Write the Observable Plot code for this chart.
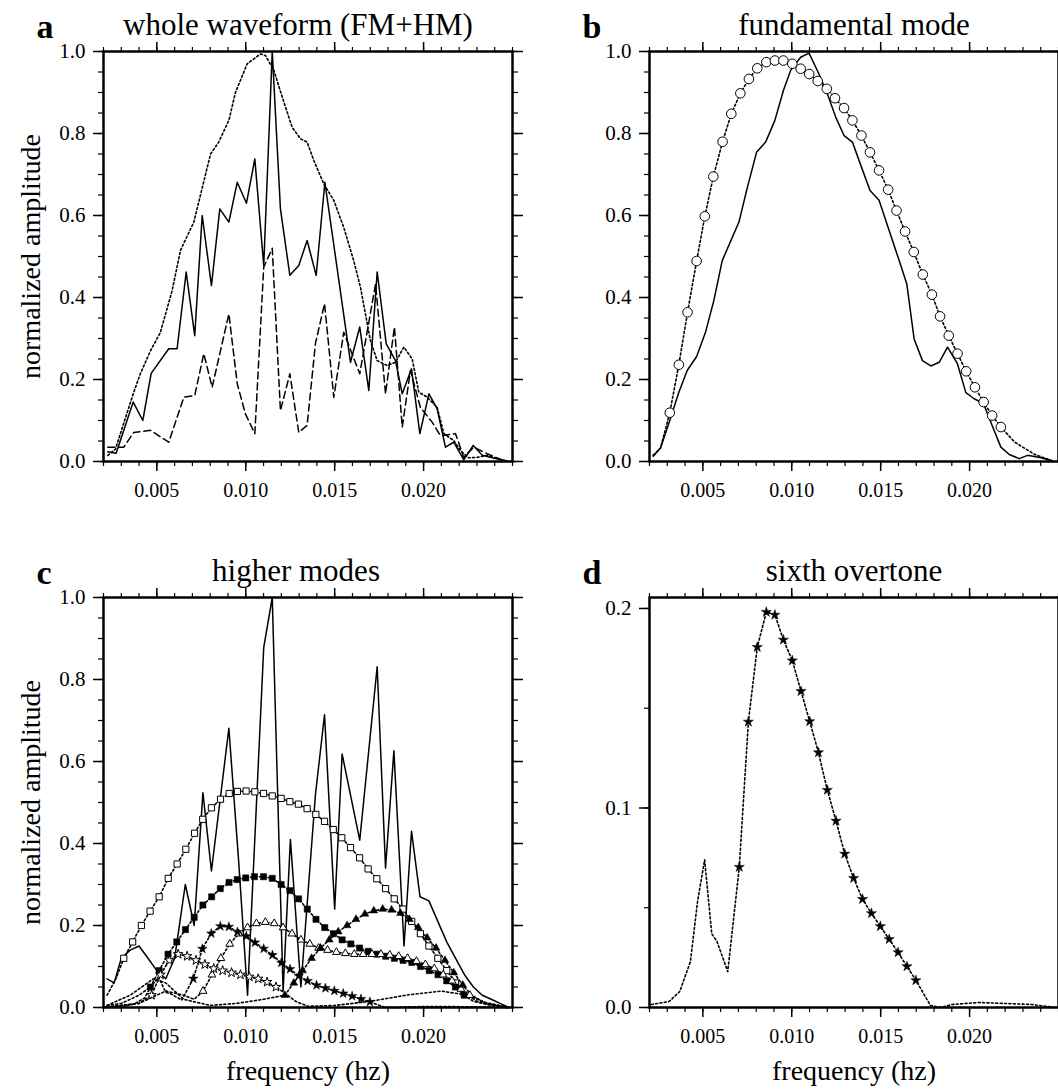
<!DOCTYPE html>
<html><head><meta charset="utf-8">
<script src="https://cdn.jsdelivr.net/npm/d3@7"></script>
<script src="https://cdn.jsdelivr.net/npm/@observablehq/plot@0.6"></script>
<style>
body{margin:0;background:#fff;}
#wrap{position:relative;width:1058px;height:1090px;overflow:hidden;background:#fff;}
#wrap svg{position:absolute;}
</style>
</head><body><div id="wrap"></div>
<script>
// ---------- tick labels ----------
const xMajor = [0.005, 0.010, 0.015, 0.020];
const xMinor = d3.range(2, 26).map(i => i / 1000);
const yMajor = [0, 0.2, 0.4, 0.6, 0.8, 1.0];
const yMinor = d3.range(0, 21).map(i => i * 0.05);
const dYMajor = [0, 0.1, 0.2];
const dYMinor = [0, 0.05, 0.1, 0.15, 0.2];

// ---------- panel a : whole waveform ----------
const aSolid = [[.00224,.024],[.00271,.020],[.00367,.145],[.00421,.10],[.00468,.215],[.00567,.275],[.00614,.275],[.00665,.462],[.00713,.307],[.00755,.60],[.00807,.429],[.00854,.616],[.00905,.584],[.00952,.681],[.01004,.630],[.01051,.738],[.01101,.478],[.01149,1.0],[.01195,.616],[.01248,.454],[.01298,.478],[.01345,.539],[.01396,.454],[.01445,.681],[.01589,.242],[.01641,.328],[.01692,.173],[.01739,.462],[.01790,.287],[.01842,.246],[.0188,.165],[.01932,.226],[.01979,.068],[.0203,.165],[.02076,.129],[.02123,.035],[.0217,.047],[.02226,.004],[.02279,.039],[.0233,.015],[.02404,.007],[.0247,.001]];
const aDotted = [[.00224,.015],[.00267,.03],[.00367,.165],[.00408,.215],[.00464,.27],[.0052,.315],[.00586,.417],[.00633,.515],[.00708,.584],[.00802,.75],[.00848,.779],[.00905,.832],[.00942,.90],[.01008,.97],[.01083,.994],[.01111,.99],[.01158,.954],[.01205,.889],[.01261,.815],[.01308,.787],[.01345,.779],[.01383,.734],[.01439,.677],[.01495,.637],[.01551,.571],[.01607,.49],[.01645,.425],[.01701,.295],[.01739,.246],[.01795,.234],[.01842,.242],[.01889,.279],[.01936,.25],[.01973,.169],[.0202,.157],[.02076,.132],[.02114,.068],[.0217,.051],[.02207,.027],[.02254,.009],[.02301,.01],[.02358,.015],[.02414,.007],[.0247,.001]];
const aDashed = [[.00224,.035],[.00314,.035],[.0037,.071],[.00464,.076],[.00567,.047],[.00652,.157],[.00713,.161],[.00764,.263],[.00811,.181],[.00905,.36],[.00952,.19],[.00998,.116],[.01051,.068],[.01101,.474],[.01149,.52],[.01195,.124],[.01248,.214],[.01298,.071],[.01345,.088],[.01392,.288],[.01443,.385],[.01495,.157],[.01551,.315],[.01641,.214],[.0173,.433],[.01786,.165],[.01836,.328],[.0188,.084],[.01926,.222],[.01982,.132],[.02048,.096],[.02095,.063],[.02179,.068],[.02226,.01],[.02282,.035],[.02358,.019],[.02451,.002]];

// ---------- panel b : fundamental mode ----------
const bCircles = [[.00314,.119],[.00365,.236],[.00414,.364],[.00465,.489],[.00511,.598],[.00559,.695],[.00611,.78],[.0066,.848],[.00711,.898],[.00759,.933],[.00806,.959],[.00857,.974],[.00905,.978],[.00953,.978],[.01003,.97],[.0105,.958],[.01098,.945],[.01146,.928],[.01197,.909],[.01243,.886],[.01294,.862],[.01341,.832],[.01392,.795],[.0144,.754],[.01491,.71],[.01542,.663],[.01589,.612],[.01637,.561],[.01686,.511],[.01737,.456],[.01788,.407],[.01834,.354],[.01883,.307],[.01932,.263],[.01981,.22],[.0203,.181],[.02079,.145],[.02127,.112],[.02176,.084]];
const bDotStart = [[.0022,.015],[.00262,.033]];
const bDotEnd = [[.02254,.047],[.02367,.017],[.0247,.001]];
const bSolid = [[.00221,.013],[.00262,.033],[.00314,.10],[.00365,.169],[.00412,.222],[.00465,.256],[.00515,.315],[.00562,.393],[.00609,.49],[.00703,.584],[.0075,.668],[.00802,.754],[.00853,.779],[.00905,.832],[.00953,.905],[.00994,.954],[.0105,.986],[.01097,.996],[.01153,.945],[.012,.897],[.01247,.84],[.01294,.795],[.01341,.779],[.01392,.718],[.0144,.661],[.01491,.637],[.01542,.571],[.01604,.49],[.01647,.433],[.01688,.299],[.01735,.246],[.01782,.233],[.01829,.242],[.01876,.279],[.01932,.238],[.01979,.168],[.02026,.153],[.02079,.141],[.0213,.084],[.02176,.035],[.02223,.017],[.02279,.007],[.02326,.015],[.02401,.009],[.02467,.001]];

// ---------- panel d : sixth overtone (also drawn in c) ----------
const sixthStars = [[.00705,.0704],[.00756,.1432],[.00806,.1806],[.00857,.1982],[.00905,.1968],[.00953,.1843],[.01003,.1739],[.01052,.1585],[.01101,.1434],[.0115,.1278],[.012,.109],[.01249,.0935],[.01298,.077],[.01348,.0648],[.01398,.0543],[.01448,.0472],[.01498,.0407],[.01548,.0342],[.01598,.0276],[.01648,.0206],[.01698,.0136]];
const sixthStart = [[.0021,.0015],[.0031,.003],[.0037,.008],[.0043,.023],[.0047,.053],[.0051,.074],[.0055,.037],[.0058,.033],[.0064,.018]];
const sixthEnd = [[.0178,.001],[.0184,0],[.019,.0015],[.0205,.0025],[.022,.002],[.0235,.0015],[.0248,0]];

// ---------- panel c : higher modes ----------
const cSolid = [[.0022,.07],[.0026,.06],[.0030,.12],[.0035,.14],[.0040,.15],[.0045,.12],[.0050,.09],[.0055,.07],[.0060,.12],[.0066,.30],[.0071,.20],[.00759,.524],[.00807,.333],[.00905,.681],[.0096,.357],[.0101,.03],[.01101,.878],[.01149,1.0],[.0121,.04],[.01251,.41],[.0131,.05],[.01392,.52],[.01443,.714],[.0150,.24],[.01542,.618],[.01641,.408],[.01739,.831],[.01786,.34],[.01833,.626],[.0189,.15],[.01932,.43],[.0198,.27],[.0203,.26],[.0208,.21],[.0213,.16],[.0218,.12],[.0223,.08],[.0228,.05],[.0233,.03],[.0238,.02],[.0243,.01],[.0248,0]];
const cOpenSq = [[.00314,.12],[.00364,.16],[.00413,.20],[.00462,.235],[.00513,.27],[.00564,.315],[.00614,.35],[.00663,.386],[.00712,.425],[.00758,.459],[.00807,.487],[.00858,.508],[.00907,.522],[.00953,.527],[.01002,.528],[.01051,.526],[.011,.522],[.01149,.516],[.01199,.51],[.01248,.502],[.01296,.496],[.01345,.485],[.01394,.471],[.01443,.454],[.01492,.434],[.0154,.414],[.01589,.39],[.0164,.365],[.01688,.338],[.01737,.314],[.01786,.29],[.01835,.265],[.01884,.24],[.01933,.21],[.01982,.18],[.0203,.15],[.0208,.12],[.0213,.09],[.0218,.06]];
const cOpenSqStart = [[.0022,.03],[.0027,.07]];
const cOpenSqEnd = [[.0223,.035],[.0230,.015],[.0240,.005],[.0248,0]];
const cFillSq = [[.00464,.05],[.00513,.09],[.00563,.13],[.00612,.16],[.00661,.19],[.0071,.22],[.00759,.25],[.00808,.27],[.00857,.29],[.00906,.305],[.00952,.312],[.01,.316],[.01049,.319],[.011,.319],[.01149,.315],[.01199,.30],[.01248,.285],[.01297,.265],[.01346,.24],[.01395,.215],[.01444,.195],[.01493,.18],[.01542,.165],[.01591,.155],[.0164,.145],[.01689,.137],[.01738,.13],[.01787,.125],[.01836,.12],[.01885,.115],[.01934,.11],[.01983,.10],[.02032,.09],[.02081,.08],[.0213,.065],[.02179,.05],[.02228,.03]];
const cFillSqStart = [[.0022,.005],[.003,.01],[.004,.03]];
const cFillSqEnd = [[.0228,.015],[.0238,.005],[.0248,0]];
const cOpenTri = [[.0076,.04],[.0081,.08],[.0086,.12],[.0091,.155],[.0096,.18],[.0101,.195],[.0106,.205],[.0111,.208],[.0116,.205],[.0121,.195],[.0126,.18],[.0131,.165],[.0136,.155],[.0141,.145],[.0146,.14],[.0151,.135],[.0156,.132],[.0161,.13],[.0166,.13],[.0171,.13],[.0176,.13],[.0181,.128],[.0186,.125],[.0191,.12],[.0196,.113],[.0201,.105],[.0206,.095],[.0211,.08],[.0216,.065],[.0221,.045],[.0226,.03]];
const cOpenTriStart = [[.0022,.002],[.004,.01],[.0055,.04],[.0065,.03],[.0071,.02]];
const cOpenTriEnd = [[.0235,.01],[.0248,0]];
const cFillTri = [[.0122,.03],[.0127,.06],[.0132,.09],[.0137,.12],[.0142,.145],[.0147,.165],[.0152,.185],[.0157,.20],[.0162,.215],[.0167,.228],[.0172,.236],[.0177,.24],[.0182,.238],[.0187,.23],[.0192,.215],[.0197,.195],[.0202,.17],[.0207,.145],[.0212,.115],[.0217,.085],[.0222,.055]];
const cFillTriStart = [[.0022,.005],[.0035,.03],[.0048,.07],[.0055,.06],[.0065,.02],[.0080,.005],[.0095,.01],[.011,.02]];
const cFillTriEnd = [[.0227,.03],[.0235,.01],[.0248,0]];
const cOpenStar = [[.0047,.03],[.0052,.08],[.0057,.115],[.0062,.13],[.0067,.125],[.0072,.115],[.0077,.105],[.0082,.095],[.0087,.09],[.0092,.085],[.0097,.08],[.0102,.075],[.0107,.07],[.0112,.062],[.0117,.05]];
const cOpenStarStart = [[.0022,0],[.003,.005],[.004,.01]];
const cOpenStarEnd = [[.0122,.035],[.0128,.015],[.0135,.003],[.015,.005],[.017,.015],[.019,.03],[.021,.04],[.0225,.03],[.0235,.012],[.0248,0]];

// ---------- drawing ----------
const FONT = "Liberation Serif";
const X = d => d[0], Y = d => d[1];
const FW = 409, FH = 410, ML = 103, MT = 51, MR = 20, MB = 90;
const solid = (data) => Plot.line(data, {x: X, y: Y, stroke: "black", strokeWidth: 1.5});
const dotted = (data) => Plot.line(data, {x: X, y: Y, stroke: "black", strokeWidth: 1.6, strokeDasharray: "2,2.4"});
const dashed = (data) => Plot.line(data, {x: X, y: Y, stroke: "black", strokeWidth: 1.5, strokeDasharray: "7,4"});
const markers = (data, symbol, r, open) => Plot.dot(data, {x: X, y: Y, symbol, r, fill: open ? "white" : "black", stroke: "black", strokeWidth: open ? 1 : 0.5});

function panel(o) {
  const fmtY = d3.format(".1f");
  const blank = () => "";
  const marks = [
    ...o.marks,
    Plot.frame({strokeWidth: 2.5}),
    Plot.axisX({anchor: "bottom", ticks: xMajor, tickSize: 10, tickPadding: 11, tickFormat: d3.format(".3f"), fontSize: 20, strokeWidth: 1.5, label: null}),
    Plot.axisX({anchor: "bottom", ticks: xMinor, tickSize: 5, tickFormat: blank, strokeWidth: 1.2, label: null}),
    Plot.axisX({anchor: "top", ticks: xMajor, tickSize: 10, tickFormat: blank, strokeWidth: 1.5, label: null}),
    Plot.axisX({anchor: "top", ticks: xMinor, tickSize: 5, tickFormat: blank, strokeWidth: 1.2, label: null}),
    Plot.axisY({anchor: "left", ticks: o.yMajor, tickSize: 10, tickPadding: 8, tickFormat: fmtY, fontSize: 21, strokeWidth: 1.5, label: null}),
    Plot.axisY({anchor: "left", ticks: o.yMinor, tickSize: 5, tickFormat: blank, strokeWidth: 1.2, label: null}),
    Plot.axisY({anchor: "right", ticks: o.yMajor, tickSize: 10, tickFormat: blank, strokeWidth: 1.5, label: null}),
    Plot.axisY({anchor: "right", ticks: o.yMinor, tickSize: 5, tickFormat: blank, strokeWidth: 1.2, label: null}),
    Plot.text([o.title], {text: d => d, frameAnchor: "top", dx: o.titleDx, dy: -17, lineAnchor: "bottom", textAnchor: "middle", fontSize: 31}),
    Plot.text([o.letter], {text: d => d, frameAnchor: "top-left", dx: -67, dy: -14, lineAnchor: "bottom", textAnchor: "start", fontSize: 34, fontWeight: "bold"})
  ];
  if (o.ylabel) marks.push(Plot.text([o.ylabel], {text: d => d, frameAnchor: "left", dx: -72, rotate: -90, lineAnchor: "middle", textAnchor: "middle", fontSize: 28}));
  if (o.xlabel) marks.push(Plot.text([o.xlabel], {text: d => d, frameAnchor: "bottom", dy: 64, lineAnchor: "middle", textAnchor: "middle", fontSize: 28}));
  const svg = Plot.plot({
    width: ML + FW + MR, height: MT + FH + MB,
    marginLeft: ML, marginTop: MT, marginRight: MR, marginBottom: MB,
    style: {fontFamily: FONT, background: "transparent", overflow: "visible", color: "black"},
    x: {domain: [0.002, 0.025]},
    y: {domain: o.yDomain},
    marks
  });
  svg.style.left = o.left + "px";
  svg.style.top = o.top + "px";
  document.getElementById("wrap").appendChild(svg);
}

panel({
  left: 0, top: 0, title: "whole waveform (FM+HM)", letter: "a", titleDx: -10,
  ylabel: "normalized amplitude", yDomain: [0, 1], yMajor, yMinor,
  marks: [dotted(aDotted), dashed(aDashed), solid(aSolid)]
});
panel({
  left: 546, top: 0, title: "fundamental mode", letter: "b", titleDx: 0,
  yDomain: [0, 1], yMajor, yMinor,
  marks: [dotted([...bDotStart, ...bCircles, ...bDotEnd]), solid(bSolid), markers(bCircles, "circle", 4.8, true)]
});
panel({
  left: 0, top: 546, title: "higher modes", letter: "c", titleDx: -12,
  ylabel: "normalized amplitude", xlabel: "frequency (hz)", yDomain: [0, 1], yMajor, yMinor,
  marks: [
    dotted([...cOpenSqStart, ...cOpenSq, ...cOpenSqEnd]),
    dotted([...cFillSqStart, ...cFillSq, ...cFillSqEnd]),
    dotted([...cOpenTriStart, ...cOpenTri, ...cOpenTriEnd]),
    dotted([...cFillTriStart, ...cFillTri, ...cFillTriEnd]),
    dotted([...cOpenStarStart, ...cOpenStar, ...cOpenStarEnd]),
    dotted([...sixthStart, ...sixthStars, ...sixthEnd]),
    solid(cSolid),
    markers(cOpenSq, "square", 3.5, true),
    markers(cFillSq, "square", 3.5, false),
    markers(cOpenTri, "triangle", 2.9, true),
    markers(cFillTri, "triangle", 2.9, false),
    markers(cOpenStar, "star", 3.0, true),
    markers(sixthStars, "star", 3.0, false)
  ]
});
panel({
  left: 546, top: 546, title: "sixth overtone", letter: "d", titleDx: 0,
  xlabel: "frequency (hz)", yDomain: [0, 0.2055], yMajor: dYMajor, yMinor: dYMinor,
  marks: [dotted([...sixthStart, ...sixthStars, ...sixthEnd]), markers(sixthStars, "star", 3.2, false)]
});
</script>
</body></html>
